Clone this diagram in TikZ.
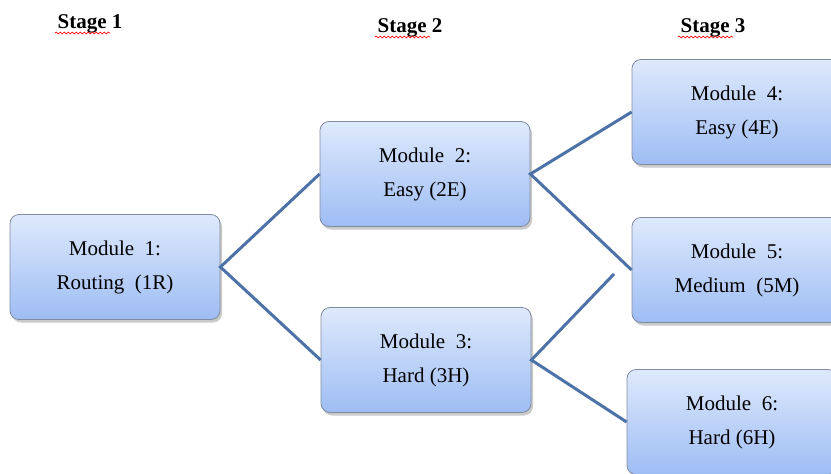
\documentclass[tikz,border=0pt]{standalone}
\usepackage{fontspec}
\setmainfont{Liberation Serif}
\usetikzlibrary{shadows,decorations.pathmorphing}

\definecolor{linkblue}{RGB}{76,114,168}
\definecolor{boxtop}{RGB}{222,233,252}
\definecolor{boxbottom}{RGB}{158,189,244}
\definecolor{boxedge}{RGB}{130,140,160}

\tikzset{
  modbox/.style={rectangle, rounded corners=9pt, minimum width=210pt,
    minimum height=105pt, top color=boxtop, bottom color=boxbottom,
    draw=boxedge, line width=0.8pt, align=center, inner sep=0pt,
    font=\fontsize{21}{34}\selectfont,
    drop shadow={shadow xshift=2pt, shadow yshift=-3pt, opacity=0.35, fill=black!60}},
  link/.style={draw=linkblue, line width=3pt},
  stagelabel/.style={font=\fontsize{21}{25}\selectfont\bfseries, anchor=base, inner sep=0pt},
  squiggle/.style={draw=red, line width=0.7pt,
    decorate, decoration={snake, amplitude=0.9pt, segment length=4pt}}
}

\begin{document}
\begin{tikzpicture}[x=1pt,y=-1pt]
  \useasboundingbox (0,0) rectangle (831,474);
  \clip (0,0) rectangle (831,474);

  % stage headings
  \node[stagelabel] (s1) at (90,28) {Stage 1};
  \node[stagelabel] (s2) at (410,32) {Stage 2};
  \node[stagelabel] (s3) at (713,32) {Stage 3};
  \draw[squiggle] (55,33) -- (110,33);
  \draw[squiggle] (375,37) -- (430,37);
  \draw[squiggle] (678,37) -- (733,37);

  % modules
  \node[modbox] (m1) at (115,267) {Module\ \ 1:\\Routing\ \ (1R)};
  \node[modbox] (m2) at (425,174) {Module\ \ 2:\\Easy (2E)};
  \node[modbox] (m3) at (426,360) {Module\ \ 3:\\Hard (3H)};
  \node[modbox] (m4) at (737,112) {Module\ \ 4:\\Easy (4E)};
  \node[modbox] (m5) at (737,270) {Module\ \ 5:\\Medium\ \ (5M)};
  \node[modbox] (m6) at (732,422) {Module\ \ 6:\\Hard (6H)};

  % free end of the 3H -> 5M branch
  \coordinate (m3up) at (614,274);

  % branches
  \draw[link] (m2.west) -- (m1.east) -- (m3.west);
  \draw[link] (m4.west) -- (m2.east) -- (m5.west);
  \draw[link] (m3up) -- (m3.east) -- (m6.west);
\end{tikzpicture}
\end{document}
